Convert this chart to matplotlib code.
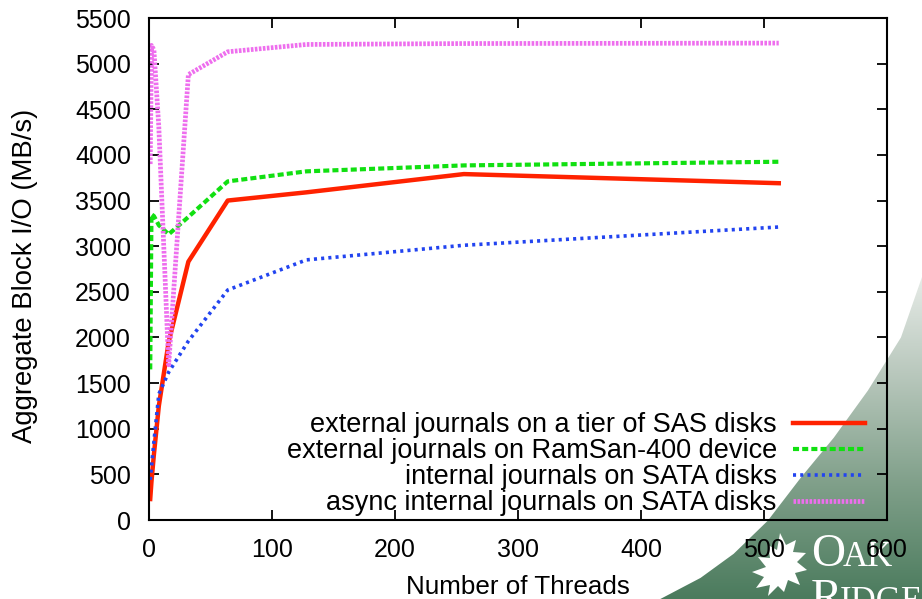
import numpy as np
import matplotlib
matplotlib.use('Agg')
import matplotlib.pyplot as plt
from matplotlib.patches import Polygon
from matplotlib.lines import Line2D
from matplotlib.colors import LinearSegmentedColormap

plt.rcParams['font.family'] = ['Liberation Sans', 'DejaVu Sans']

threads = [1, 2, 4, 8, 16, 32, 64, 128, 256, 512]
sas_journal = [230, 420, 720, 1250, 1950, 2830, 3500, 3590, 3790, 3690]
ramsan_journal = [1650, 3350, 3330, 3230, 3130, 3320, 3710, 3820, 3885, 3925]
sata_internal = [440, 580, 860, 1380, 1620, 1960, 2520, 2850, 3010, 3210]
sata_async = [3900, 5200, 5150, 4300, 1700, 4880, 5130, 5210, 5220, 5225]

labels = ['external journals on a tier of SAS disks',
          'external journals on RamSan-400 device',
          'internal journals on SATA disks',
          'async internal journals on SATA disks']

fig = plt.figure(figsize=(9.22, 5.99), dpi=100)

# background: green swoosh + logo of the slide template (pixel coords)
bg = fig.add_axes([0, 0, 1, 1], zorder=-5)
edge_x = [924, 900, 867, 833, 800, 767, 733, 700, 660, 645]
edge_y = [268, 337, 390, 437, 477, 520, 553, 577, 598, 602]
swoosh = Polygon(list(zip(edge_x, edge_y)) + [(924, 602)], closed=True,
                 facecolor='none', edgecolor='none')
bg.add_patch(swoosh)
cmap = LinearSegmentedColormap.from_list('g', ['#eef1ee', '#b9c8bd', '#7f9f89', '#4b7b5d'])
grad = np.linspace(0, 1, 256).reshape(-1, 1)
im = bg.imshow(grad, cmap=cmap, extent=[600, 922, 599, 260], aspect='auto')
im.set_clip_path(swoosh)
bg.add_line(Line2D(edge_x, edge_y, color='white', lw=1.5))
leaf = [(780, 533), (786, 545), (796, 540), (793, 552), (806, 553), (797, 562),
        (807, 570), (795, 573), (800, 585), (788, 580), (784, 592), (778, 586),
        (768, 596), (770, 585), (756, 588), (764, 577), (752, 572), (766, 567),
        (758, 557), (770, 558), (768, 545), (777, 550)]
bg.add_patch(Polygon(leaf, closed=True, facecolor='white', edgecolor='none'))
bg.text(811, 566, 'O', color='white', fontsize=34, family='Liberation Serif')
bg.text(843, 566, 'AK', color='white', fontsize=25, family='Liberation Serif')
bg.text(811, 611, 'R', color='white', fontsize=34, family='Liberation Serif')
bg.text(840, 611, 'IDGE', color='white', fontsize=25, family='Liberation Serif')
bg.set_xlim(0, 922)
bg.set_ylim(599, 0)
bg.axis('off')

ax = fig.add_axes([149 / 922, 1 - 520 / 599, 738 / 922, 502 / 599])
ax.set_facecolor('none')

ax.plot(threads, sas_journal, color='#ff2200', lw=3.2, label=labels[0])
ax.plot(threads, ramsan_journal, color='#11e011', lw=3, dashes=(1.45, 0.75), label=labels[1])
ax.plot(threads, sata_internal, color='#2244f0', lw=2.6, dashes=(0.85, 1.15), label=labels[2])
ax.plot(threads, sata_async, color='#ee6eee', lw=3.4, dashes=(0.55, 0.3), label=labels[3])

ax.set_xlim(0, 600)
ax.set_ylim(0, 5500)
ax.set_xticks(range(0, 601, 100))
ax.set_yticks(range(0, 5501, 500))
ax.tick_params(direction='in', length=7, width=1.3, top=True, right=True,
               labelsize=18, pad=13)
for s in ax.spines.values():
    s.set_linewidth(1.5)

ax.set_xlabel('Number of Threads', fontsize=18.7, labelpad=9)
ax.set_ylabel('Aggregate Block I/O (MB/s)', fontsize=19.8)
ax.yaxis.set_label_coords(-0.150, 0.486)

ax.legend(loc='lower right', bbox_to_anchor=(0.97, 0.008), frameon=False,
          markerfirst=False, fontsize=19.5, handlelength=2.65, handletextpad=0.6,
          labelspacing=0.0, borderpad=0, borderaxespad=0)

fig.savefig('out.png', dpi=100)
